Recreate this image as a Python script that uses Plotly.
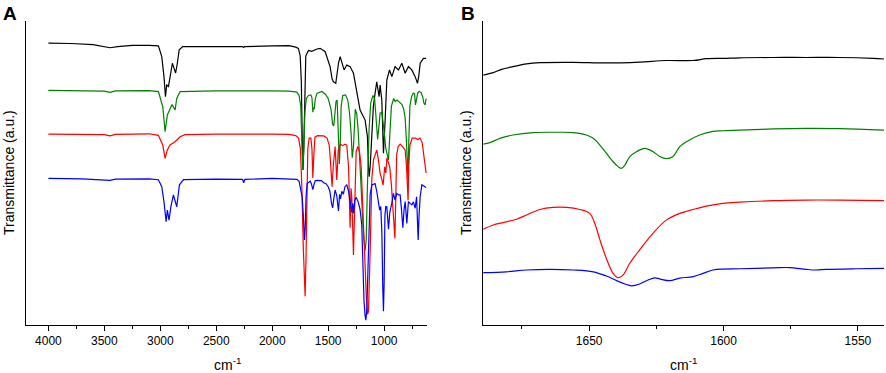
import plotly.graph_objects as go

# ---------------- Panel A data: (wavenumber cm-1, transmittance a.u.) ----------------
A_black = [(4000, 92.7), (3800, 92.6), (3600, 92.2), (3520, 91.6), (3450, 91.2), (3380, 91.6), (3250, 92.0),
           (3100, 92.0), (3017, 91.8), (2987, 88.3), (2967, 81.7), (2954, 75.1), (2943, 78.9), (2927, 78.5),
           (2913, 81.7), (2892, 86.1), (2878, 84.5), (2863, 82.9), (2848, 86.1), (2831, 90.5), (2800, 91.6),
           (2500, 91.7), (2265, 91.6), (2255, 91.3), (2245, 91.6), (2000, 91.8), (1850, 91.9), (1790, 91.4),
           (1766, 91.0), (1750, 88.5), (1740, 80), (1732, 62), (1725, 51), (1718, 58), (1710, 75), (1700, 88.5),
           (1676, 90.3), (1647, 90.0), (1600, 90.8), (1572, 91.0), (1527, 89.9), (1483, 85.0), (1465, 81.0),
           (1453, 80.0), (1432, 79.5), (1408, 86.1), (1393, 88.3), (1378, 86.1), (1358, 83.9), (1334, 85.5),
           (1304, 85.0), (1274, 82.8), (1244, 76.2), (1215, 70.7), (1170, 67.4), (1149, 61.9), (1140, 52),
           (1134, 48.8), (1125, 52), (1110, 62), (1096, 72), (1081, 76.2), (1066, 80.0), (1045, 75.1),
           (1036, 78.9), (1021, 74.0), (1006, 56.5), (991, 67.4), (976, 80.6), (952, 83.9), (931, 81.7),
           (902, 85.0), (872, 83.9), (842, 86.1), (812, 82.8), (783, 85.0), (753, 83.9), (723, 81.7),
           (702, 79.5), (690, 82), (678, 86.1), (649, 87.7), (625, 87.7)]

A_green = [(4000, 77.2), (3700, 77.1), (3500, 76.9), (3450, 76.5), (3400, 77.0), (3100, 77.1), (3017, 76.8),
           (2978, 71.8), (2957, 63.6), (2937, 69.1), (2913, 71.3), (2895, 72.5), (2868, 70.7), (2853, 74.5),
           (2823, 76.8), (2500, 77.0), (2000, 77.0), (1850, 76.9), (1780, 76.6), (1760, 75.5), (1745, 72),
           (1735, 60), (1727, 51), (1718, 58), (1708, 70), (1695, 74.5), (1676, 75.5), (1655, 75.7),
           (1645, 74.8), (1637, 70), (1632, 71.5), (1625, 71), (1615, 74.5), (1600, 76.2), (1557, 76.8),
           (1527, 76), (1500, 74.5), (1475, 71), (1460, 66), (1450, 65.5), (1440, 70), (1430, 73.5),
           (1420, 74), (1410, 65), (1400, 53), (1392, 60), (1384, 72), (1370, 75.5), (1345, 75.7),
           (1325, 74), (1310, 70), (1295, 63), (1285, 55), (1274, 58.7), (1265, 66), (1258, 71), (1245, 69.5),
           (1232, 64), (1215, 52), (1200, 38), (1185, 30), (1170, 24.5), (1160, 28), (1150, 45), (1135, 64),
           (1120, 73), (1100, 75.5), (1085, 74.5), (1075, 69), (1066, 63), (1058, 61), (1045, 66), (1036, 69.7),
           (1020, 70), (1005, 66), (995, 62), (985, 58), (975, 56), (961, 54.3), (950, 62), (935, 72),
           (915, 74.5), (902, 73.5), (885, 74), (870, 73.5), (855, 73), (840, 72.5), (825, 71), (812, 68),
           (800, 60), (787, 47.7), (780, 60), (770, 72), (755, 75.1), (740, 76.3), (728, 76), (720, 72.4),
           (712, 74), (700, 76.3), (688, 76.8), (670, 76.5), (655, 75), (645, 73), (634, 72.4), (625, 74.5)]

A_red = [(4000, 62.8), (3700, 62.8), (3500, 62.6), (3450, 62.2), (3400, 62.7), (3100, 62.9), (3017, 62.4),
         (2978, 59.2), (2957, 54.8), (2937, 57.6), (2913, 59.2), (2868, 60.3), (2823, 61.9), (2780, 62.6),
         (2500, 62.8), (2000, 62.8), (1850, 62.7), (1790, 62.3), (1765, 61.5), (1748, 58), (1735, 45),
         (1722, 25), (1712, 12), (1706, 9.5), (1698, 22), (1690, 45), (1682, 58), (1670, 61.5), (1655, 61.5),
         (1645, 58), (1637, 48.4), (1628, 56), (1618, 61.8), (1595, 62.3), (1540, 62.2), (1510, 61.5),
         (1490, 59), (1478, 53), (1465, 45.5), (1455, 52), (1445, 56.5), (1438, 58.7), (1423, 47.7),
         (1410, 57.5), (1390, 59.5), (1370, 59), (1350, 59.5), (1334, 59.2), (1318, 52), (1304, 32),
         (1296, 45), (1289, 42.2), (1274, 23), (1262, 40), (1250, 57), (1235, 58.7), (1220, 57), (1205, 52),
         (1190, 38), (1176, 22), (1160, 10), (1148, 3.5), (1140, 4.5), (1125, 24), (1110, 48), (1095, 54.3),
         (1081, 56), (1066, 57.6), (1050, 54), (1036, 49.9), (1021, 48), (1009, 46), (995, 52), (985, 50),
         (975, 55), (962, 53), (950, 52), (935, 46), (920, 38), (910, 30), (904, 28.5), (897, 40), (888, 56),
         (875, 58.7), (857, 59.5), (835, 58.7), (812, 57.5), (800, 52), (792, 44), (786, 41), (780, 52),
         (770, 59), (750, 61.5), (720, 61.5), (700, 61), (680, 61.5), (660, 60), (645, 56), (635, 52),
         (625, 50)]

A_blue = [(4000, 48.2), (3700, 48.1), (3450, 47.6), (3400, 48.0), (3100, 48.1), (3017, 47.8), (2987, 45.5),
          (2967, 40.5), (2948, 34), (2937, 37.8), (2922, 34.5), (2905, 39), (2883, 42.8), (2853, 38.9),
          (2829, 46.1), (2793, 47.8), (2500, 48.0), (2265, 47.9), (2255, 46.8), (2245, 47.9), (2000, 48.2),
          (1850, 48.1), (1780, 47.9), (1760, 47.3), (1745, 45), (1732, 42), (1722, 36), (1712, 28),
          (1705, 32), (1698, 42), (1688, 46.5), (1675, 47), (1660, 47.3), (1650, 46.5), (1637, 44.5),
          (1628, 46), (1615, 47.5), (1590, 47.6), (1560, 47.5), (1540, 46.8), (1520, 46.5), (1500, 45.5),
          (1485, 44), (1470, 40), (1460, 38.5), (1450, 41.5), (1438, 44.4), (1423, 42.5), (1408, 37.5),
          (1398, 43), (1390, 41.5), (1378, 44), (1365, 43), (1350, 45.5), (1334, 46.1), (1318, 44),
          (1304, 40), (1289, 37), (1280, 40), (1274, 36.7), (1262, 41), (1250, 42), (1232, 40.5), (1215, 38),
          (1200, 33), (1190, 20), (1180, 8), (1170, 3), (1163, 1.6), (1155, 5), (1145, 20), (1135, 35),
          (1125, 43), (1110, 46.1), (1095, 46.3), (1081, 46.5), (1066, 44), (1050, 40), (1040, 37.8),
          (1030, 39), (1020, 30), (1012, 12), (1006, 4.5), (1000, 14), (993, 36), (985, 39), (976, 38.9),
          (961, 31.5), (950, 37), (932, 40), (917, 43.3), (902, 41.1), (887, 43.3), (872, 42.8), (857, 42.8),
          (845, 38), (833, 32), (822, 38), (812, 40.6), (797, 33.4), (783, 40.6), (768, 40), (753, 39.5),
          (738, 40.5), (723, 38.4), (710, 42.2), (702, 36), (696, 28), (688, 36), (678, 42.2), (663, 46.1),
          (645, 45.8), (634, 45.5), (625, 45.2)]

# ---------------- Panel B data (zoom 1690-1540 cm-1) ----------------
B_black = [(1689.4, 82.2), (1685.7, 83.0), (1682.6, 84.1), (1678.3, 85.0), (1673.3, 85.9), (1668.3, 86.3),
           (1655.9, 86.4), (1643.6, 86.2), (1631.2, 86.5), (1621.3, 87.0), (1611.3, 87.0), (1606.4, 87.6),
           (1600.2, 87.7), (1594.0, 87.9), (1581.6, 88.0), (1569.2, 88.0), (1556.8, 88.0), (1544.4, 87.7),
           (1540.3, 87.5)]

B_green = [(1689.4, 59.5), (1686.9, 60.0), (1683.2, 61.4), (1678.3, 62.5), (1670.8, 63.3), (1662.1, 63.4),
           (1655.9, 63.3), (1651.0, 62.5), (1648.5, 61.4), (1646.0, 59.2), (1643.6, 56.5), (1641.1, 53.7),
           (1639.2, 52.1), (1638.0, 51.5), (1636.7, 52.6), (1634.9, 55.4), (1632.4, 57.0), (1629.3, 58.1),
           (1626.2, 57.0), (1623.7, 55.4), (1621.3, 54.7), (1618.8, 55.4), (1616.3, 58.7), (1613.8, 60.3),
           (1608.9, 62.5), (1603.9, 63.7), (1600.2, 63.9), (1594.0, 64.1), (1581.6, 64.5), (1569.2, 64.7),
           (1556.8, 64.6), (1540.3, 64.1)]

B_red = [(1689.4, 31.5), (1685.7, 32.9), (1682.0, 33.7), (1677.0, 34.8), (1673.3, 36.2), (1668.3, 38.0),
         (1663.4, 38.7), (1658.4, 38.7), (1653.5, 38.0), (1649.8, 36.7), (1647.9, 33.4), (1646.0, 28.0),
         (1643.6, 21.9), (1641.1, 17.0), (1639.2, 15.6), (1637.4, 16.4), (1634.9, 20.3), (1631.2, 24.7),
         (1626.2, 30.2), (1621.3, 34.5), (1616.3, 36.7), (1611.3, 38.0), (1606.4, 39.1), (1600.2, 40.0),
         (1594.0, 40.4), (1581.6, 40.9), (1569.2, 41.1), (1556.8, 41.1), (1540.3, 40.9)]

B_blue = [(1689.4, 17.2), (1680.8, 17.5), (1673.3, 18.1), (1664.6, 18.3), (1655.9, 18.1), (1648.5, 17.5),
          (1643.6, 16.1), (1639.8, 14.6), (1636.7, 13.5), (1634.3, 12.9), (1631.2, 13.5), (1628.1, 14.8),
          (1625.6, 15.5), (1623.1, 15.0), (1620.0, 14.6), (1616.3, 15.4), (1611.3, 15.9), (1607.6, 17.0),
          (1603.9, 18.1), (1600.2, 18.4), (1594.0, 18.5), (1581.6, 18.8), (1575.4, 18.9), (1569.2, 18.3),
          (1565.5, 18.1), (1561.8, 18.3), (1550.6, 18.5), (1540.3, 18.6)]

COLORS = {"black": "#000000", "green": "#008000", "red": "#ff0000", "blue": "#0000ff"}
FONT = "Liberation Sans, Arial, sans-serif"

fig = go.Figure()

def add(series, color, xa, ya, shape="linear"):
    fig.add_trace(go.Scatter(
        x=[p[0] for p in series], y=[p[1] for p in series], mode="lines",
        line=dict(color=color, width=1.2, shape=shape), xaxis=xa, yaxis=ya,
        showlegend=False, hoverinfo="skip"))

for s, c in [(A_black, "black"), (A_green, "green"), (A_red, "red"), (A_blue, "blue")]:
    add(s, COLORS[c], "x", "y")
for s, c in [(B_black, "black"), (B_green, "green"), (B_red, "red"), (B_blue, "blue")]:
    add(s, COLORS[c], "x2", "y2", shape="spline")

W, H = 886, 373
ydom = [1 - 325 / H, 1 - 21 / H]
axis_common = dict(showline=True, linecolor="black", linewidth=1, ticks="outside", ticklen=5,
                   tickcolor="black", tickwidth=1, showgrid=False, zeroline=False,
                   tickfont=dict(family=FONT, size=12, color="black"))

fig.update_layout(
    width=W, height=H, margin=dict(l=0, r=0, t=0, b=0),
    paper_bgcolor="white", plot_bgcolor="white",
    xaxis=dict(domain=[26 / W, 427 / W], range=[4200, 617], tickvals=[4000, 3500, 3000, 2500, 2000, 1500, 1000],
               minor=dict(tickvals=[3750, 3250, 2750, 2250, 1750, 1250, 750], ticks="outside", ticklen=3,
                          tickcolor="black"),
               anchor="y", **axis_common),
    yaxis=dict(domain=ydom, range=[0, 100], showline=True, linecolor="black", linewidth=1,
               showticklabels=False, ticks="", showgrid=False, zeroline=False, anchor="x"),
    xaxis2=dict(domain=[483 / W, 884 / W], range=[1689.5, 1540.3], tickvals=[1650, 1600, 1550],
                minor=dict(tickvals=[1675, 1625, 1575], ticks="outside", ticklen=3, tickcolor="black"),
                anchor="y2", **axis_common),
    yaxis2=dict(domain=ydom, range=[0, 100], showline=True, linecolor="black", linewidth=1,
                showticklabels=False, ticks="", showgrid=False, zeroline=False, anchor="x2"),
)

def ann(text, px, py, size, angle=0, bold=False):
    fig.add_annotation(text=f"<b>{text}</b>" if bold else text, x=px / W, y=1 - py / H,
                       xref="paper", yref="paper", showarrow=False, textangle=angle,
                       xanchor="center", yanchor="middle",
                       font=dict(family=FONT, size=size, color="black"))

ann("A", 10, 13, 19, bold=True)
ann("B", 468, 13, 19, bold=True)
ann("Transmittance (a.u.)", 9, 173, 14, angle=-90)
ann("Transmittance (a.u.)", 466, 172, 14, angle=-90)
ann("cm<sup>-1</sup>", 227, 364, 14)
ann("cm<sup>-1</sup>", 683, 364, 14)

fig.write_html("out.html", config={"displayModeBar": False},
               post_script="document.body.style.margin='0';document.body.style.overflow='hidden';")
